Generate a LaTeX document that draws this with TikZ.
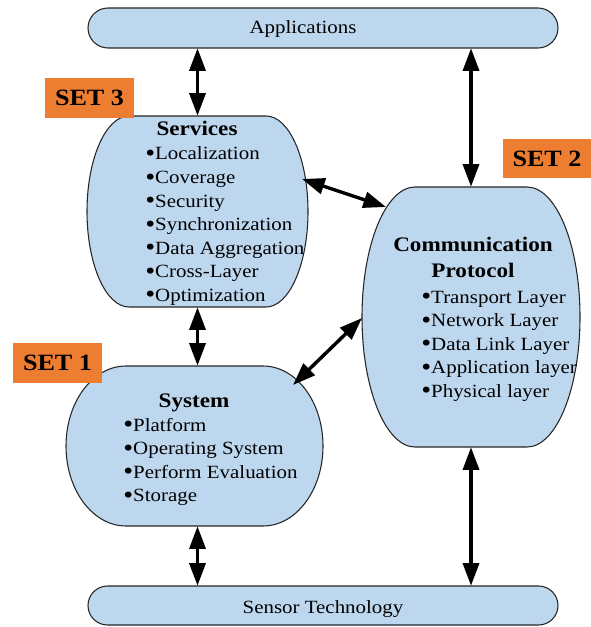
\documentclass[tikz,border=0pt]{standalone}
\usepackage{fontspec}
\setmainfont{Liberation Serif}[FakeStretch=1.12]
\usetikzlibrary{arrows.meta,fit}
\definecolor{shapefill}{HTML}{BDD7EE}
\definecolor{setorange}{HTML}{ED7D31}
\newcommand\bul{{\fontsize{19pt}{19pt}\selectfont\raisebox{-1.2pt}{•}}}
\tikzset{
  blobline/.style={draw=black!85, line width=0.8pt, fill=shapefill},
  biarrow/.style={line width=2.6pt, {Triangle[length=17pt,width=12pt]}-{Triangle[length=17pt,width=12pt]}},
  heading/.style={font=\fontsize{15.5pt}{18pt}\selectfont\bfseries, inner sep=0pt, anchor=base},
  item/.style={font=\fontsize{14pt}{17pt}\selectfont, inner sep=0pt, anchor=base west},
  plain/.style={font=\fontsize{14pt}{17pt}\selectfont, inner sep=0pt, anchor=base},
  setbox/.style={fill=setorange, inner sep=0pt, font=\fontsize{17.5pt}{20pt}\selectfont\bfseries}
}
\newcommand\myblob[7]{%
 \draw[blobline] ({#2+#6},#3) -- ({#4-#6},#3)
   .. controls ({#4-#6+0.5523*#6},#3) and (#4,{#3+#7-0.5523*#7}) .. (#4,{#3+#7})
   -- (#4,{#5-#7})
   .. controls (#4,{#5-#7+0.5523*#7}) and ({#4-#6+0.5523*#6},#5) .. ({#4-#6},#5)
   -- ({#2+#6},#5)
   .. controls ({#2+#6-0.5523*#6},#5) and (#2,{#5-#7+0.5523*#7}) .. (#2,{#5-#7})
   -- (#2,{#3+#7})
   .. controls (#2,{#3+#7-0.5523*#7}) and ({#2+#6-0.5523*#6},#3) .. ({#2+#6},#3) -- cycle;
 \node[fit={(#2,#3) (#4,#5)}, inner sep=0pt] (#1) {};
}
\begin{document}
\begin{tikzpicture}[x=0.75pt,y=-0.75pt]
\useasboundingbox (0,0) rectangle (591,627);

% bars
\myblob{app}{88}{8}{558}{48}{20}{20}
\myblob{sensor}{88}{586}{558}{625}{19.5}{19.5}
\node[plain] (apptext) at (303,34) {Applications};
\node[plain] (sensortext) at (323,613) {Sensor Technology};

% Services
\myblob{svc}{87}{116}{308}{307}{42}{95.5}
\node[heading] (svchead) at (197,136) {Services};
\foreach \t [count=\i from 0] in {Localization,Coverage,Security,Synchronization,Data Aggregation,Cross-Layer,Optimization}
  \node[item] (svc\i) at (145,{160+23.5*\i}) {\bul\t};

% Communication Protocol
\myblob{comm}{362}{187}{580}{447}{53}{130}
\node[heading] (commhead1) at (473,251) {Communication};
\node[heading] (commhead2) at (473,277) {Protocol};
\foreach \t [count=\i from 0] in {Transport Layer,Network Layer,Data Link Layer,Application layer,Physical layer}
  \node[item] (comm\i) at (421,{303+23.5*\i}) {\bul\t};

% System
\myblob{sys}{66}{366}{323}{526}{60}{80}
\node[heading] (syshead) at (194,407) {System};
\foreach \t [count=\i from 0] in {Platform,Operating System,Perform Evaluation,Storage}
  \node[item] (sys\i) at (123,{431+23.5*\i}) {\bul\t};

% SET labels
\node[setbox, minimum width=66.75pt, minimum height=30pt] (set3) at (89.5,98) {SET 3};
\node[setbox, minimum width=66pt, minimum height=29.25pt] (set2) at (547,158.5) {SET 2};
\node[setbox, minimum width=66.75pt, minimum height=30pt] (set1) at (57.5,363) {SET 1};

% connection points
\coordinate (svcR) at (302,179);
\coordinate (commL1) at (386,207);
\coordinate (sysR) at (293,385);
\coordinate (commL2) at (362,318);

% arrows
\draw[biarrow] (svc.north) -- (svc.north |- app.south);
\draw[biarrow] (comm.north) -- (comm.north |- app.south);
\draw[biarrow] (svc.south) -- (svc.south |- sys.north);
\draw[biarrow] (svc.south |- sys.south) -- (svc.south |- sensor.north);
\draw[biarrow] (comm.south) -- (comm.south |- sensor.north);
\draw[biarrow] (svcR) -- (commL1);
\draw[biarrow] (sysR) -- (commL2);
\end{tikzpicture}
\end{document}
